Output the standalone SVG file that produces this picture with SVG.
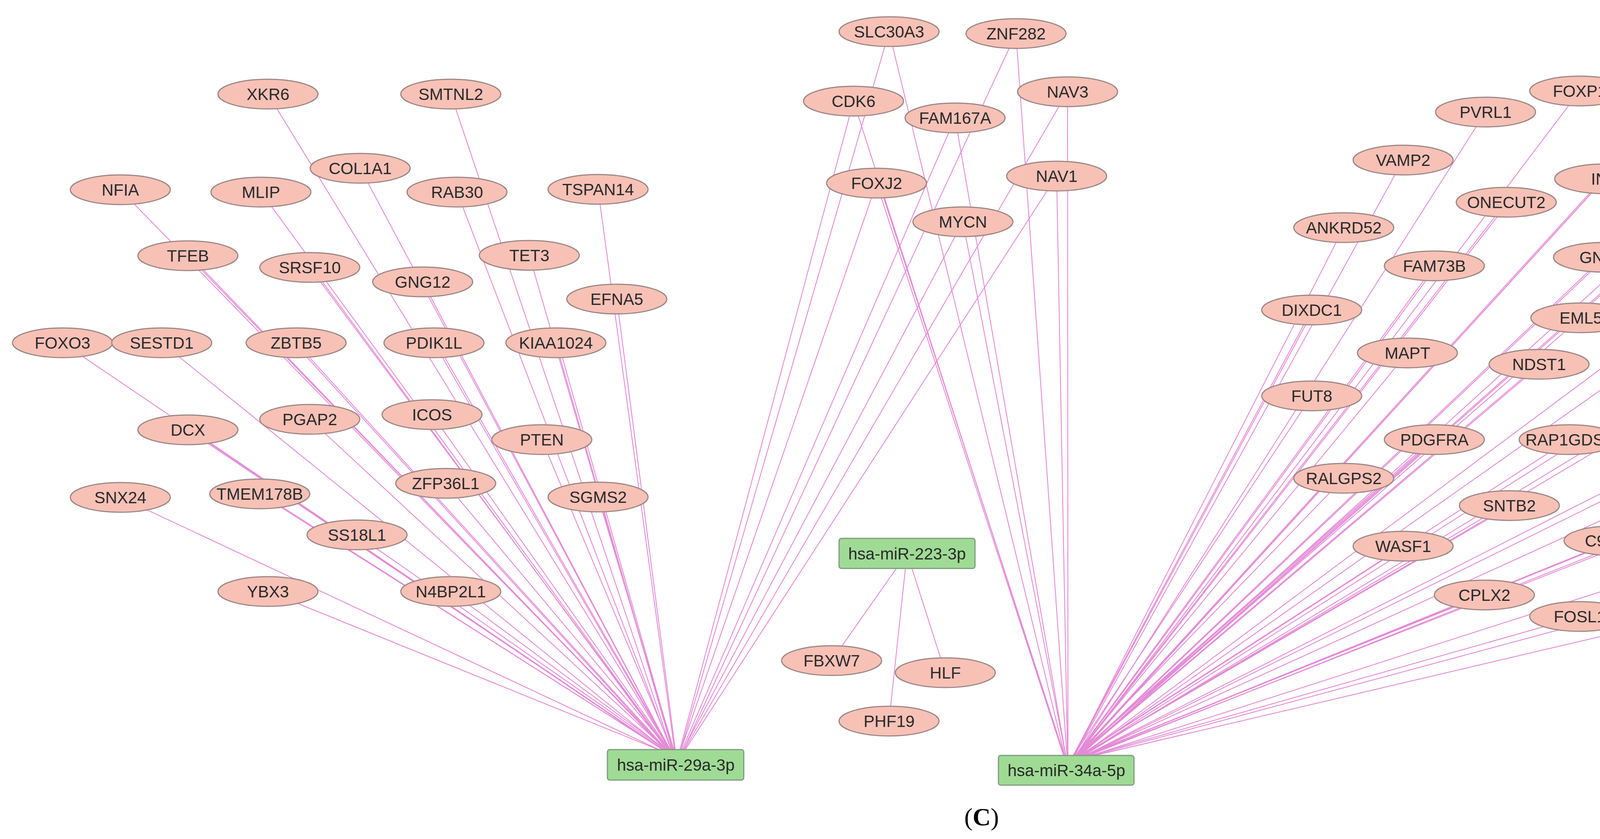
<svg xmlns="http://www.w3.org/2000/svg" width="5026" height="2149" viewBox="0 0 5026 2149">
<style>
.e{stroke:#e48ad6;stroke-width:2.2;fill:none}
.n ellipse{fill:#f8c1b6;stroke:#9b8886;stroke-width:3}
.m rect{fill:#9fdb95;stroke:#7f9c7f;stroke-width:3}
text{font-family:"Liberation Sans",Arial,sans-serif;font-size:42px;fill:#2a2a2a;text-anchor:middle;dominant-baseline:central}
.cap{font-family:"Liberation Serif","Times New Roman",serif;font-size:64px;fill:#000}
</style>
<rect width="5026" height="2149" fill="#fff"/>
<g id="edges">
<!-- miR-29a-3p -->
<line class="e" x1="686" y1="241" x2="1720" y2="1930"/>
<line class="e" x1="1154" y1="241" x2="1722" y2="1930"/>
<line class="e" x1="922" y1="431" x2="1720" y2="1930"/>
<line class="e" x1="308" y1="486" x2="1715" y2="1930"/>
<line class="e" x1="668" y1="492" x2="1718" y2="1930"/>
<line class="e" x1="1170" y1="492" x2="1722" y2="1930"/>
<line class="e" x1="1531" y1="485" x2="1728" y2="1930"/>
<line class="e" x1="481" y1="655" x2="1715" y2="1930"/>
<line class="e" x1="486" y1="655" x2="1712" y2="1930"/>
<line class="e" x1="793" y1="685" x2="1718" y2="1930"/>
<line class="e" x1="798" y1="685" x2="1715" y2="1930"/>
<line class="e" x1="1082" y1="722" x2="1720" y2="1930"/>
<line class="e" x1="1355" y1="654" x2="1724" y2="1930"/>
<line class="e" x1="1579" y1="766" x2="1730" y2="1930"/>
<line class="e" x1="160" y1="878" x2="1712" y2="1930"/>
<line class="e" x1="414" y1="878" x2="1714" y2="1930"/>
<line class="e" x1="758" y1="878" x2="1716" y2="1930"/>
<line class="e" x1="752" y1="878" x2="1713" y2="1930"/>
<line class="e" x1="1111" y1="878" x2="1720" y2="1930"/>
<line class="e" x1="1117" y1="878" x2="1722" y2="1930"/>
<line class="e" x1="1423" y1="878" x2="1724" y2="1930"/>
<line class="e" x1="1429" y1="878" x2="1726" y2="1930"/>
<line class="e" x1="793" y1="1074" x2="1716" y2="1930"/>
<line class="e" x1="1106" y1="1062" x2="1720" y2="1930"/>
<line class="e" x1="481" y1="1101" x2="1712" y2="1930"/>
<line class="e" x1="486" y1="1101" x2="1710" y2="1930"/>
<line class="e" x1="1387" y1="1126" x2="1724" y2="1930"/>
<line class="e" x1="1141" y1="1238" x2="1720" y2="1930"/>
<line class="e" x1="308" y1="1274" x2="1708" y2="1930"/>
<line class="e" x1="665" y1="1265" x2="1714" y2="1930"/>
<line class="e" x1="670" y1="1265" x2="1712" y2="1930"/>
<line class="e" x1="1531" y1="1273" x2="1728" y2="1930"/>
<line class="e" x1="914" y1="1370" x2="1716" y2="1930"/>
<line class="e" x1="686" y1="1515" x2="1710" y2="1930"/>
<line class="e" x1="1154" y1="1515" x2="1718" y2="1930"/>
<line class="e" x1="2276" y1="81" x2="1740" y2="1930"/>
<line class="e" x1="2185" y1="259" x2="1738" y2="1930"/>
<line class="e" x1="2445" y1="302" x2="1742" y2="1930"/>
<line class="e" x1="2244" y1="469" x2="1740" y2="1930"/>
<line class="e" x1="2465" y1="568" x2="1744" y2="1930"/>
<line class="e" x1="2601" y1="86" x2="1745" y2="1930"/>
<line class="e" x1="2733" y1="235" x2="1746" y2="1930"/>
<line class="e" x1="2705" y1="451" x2="1748" y2="1930"/>
<!-- miR-223-3p -->
<line class="e" x1="2322" y1="1417" x2="2129" y2="1692"/>
<line class="e" x1="2322" y1="1417" x2="2420" y2="1723"/>
<line class="e" x1="2322" y1="1417" x2="2276" y2="1847"/>
<!-- miR-34a-5p -->
<line class="e" x1="2276" y1="81" x2="2728" y2="1945"/>
<line class="e" x1="2185" y1="259" x2="2726" y2="1945"/>
<line class="e" x1="2445" y1="302" x2="2730" y2="1945"/>
<line class="e" x1="2244" y1="469" x2="2726" y2="1945"/>
<line class="e" x1="2250" y1="469" x2="2728" y2="1945"/>
<line class="e" x1="2465" y1="568" x2="2730" y2="1945"/>
<line class="e" x1="2601" y1="86" x2="2732" y2="1945"/>
<line class="e" x1="2733" y1="235" x2="2734" y2="1945"/>
<line class="e" x1="2705" y1="451" x2="2733" y2="1945"/>
<line class="e" x1="4044" y1="233" x2="2750" y2="1945"/>
<line class="e" x1="4295" y1="252" x2="2752" y2="1945"/>
<line class="e" x1="3803" y1="287" x2="2748" y2="1945"/>
<line class="e" x1="4525" y1="341" x2="2754" y2="1945"/>
<line class="e" x1="3592" y1="410" x2="2746" y2="1945"/>
<line class="e" x1="4108" y1="458" x2="2750" y2="1945"/>
<line class="e" x1="4103" y1="458" x2="2748" y2="1945"/>
<line class="e" x1="3856" y1="518" x2="2748" y2="1945"/>
<line class="e" x1="3862" y1="518" x2="2750" y2="1945"/>
<line class="e" x1="4361" y1="518" x2="2752" y2="1945"/>
<line class="e" x1="4367" y1="518" x2="2754" y2="1945"/>
<line class="e" x1="4709" y1="489" x2="2756" y2="1945"/>
<line class="e" x1="3440" y1="583" x2="2744" y2="1945"/>
<line class="e" x1="3672" y1="681" x2="2746" y2="1945"/>
<line class="e" x1="3678" y1="681" x2="2748" y2="1945"/>
<line class="e" x1="4105" y1="659" x2="2750" y2="1945"/>
<line class="e" x1="4111" y1="659" x2="2752" y2="1945"/>
<line class="e" x1="4546" y1="683" x2="2756" y2="1945"/>
<line class="e" x1="4829" y1="685" x2="2758" y2="1945"/>
<line class="e" x1="3358" y1="794" x2="2742" y2="1945"/>
<line class="e" x1="3363" y1="794" x2="2744" y2="1945"/>
<line class="e" x1="4047" y1="814" x2="2750" y2="1945"/>
<line class="e" x1="4449" y1="870" x2="2756" y2="1945"/>
<line class="e" x1="4869" y1="904" x2="2760" y2="1945"/>
<line class="e" x1="3603" y1="904" x2="2746" y2="1945"/>
<line class="e" x1="3940" y1="933" x2="2750" y2="1945"/>
<line class="e" x1="3945" y1="933" x2="2752" y2="1945"/>
<line class="e" x1="3358" y1="1014" x2="2742" y2="1945"/>
<line class="e" x1="4594" y1="1012" x2="2758" y2="1945"/>
<line class="e" x1="4273" y1="1044" x2="2754" y2="1945"/>
<line class="e" x1="3672" y1="1126" x2="2746" y2="1945"/>
<line class="e" x1="3667" y1="1126" x2="2744" y2="1945"/>
<line class="e" x1="4017" y1="1126" x2="2750" y2="1945"/>
<line class="e" x1="4829" y1="1123" x2="2762" y2="1945"/>
<line class="e" x1="4437" y1="1179" x2="2756" y2="1945"/>
<line class="e" x1="3440" y1="1225" x2="2744" y2="1945"/>
<line class="e" x1="3864" y1="1295" x2="2750" y2="1945"/>
<line class="e" x1="3869" y1="1295" x2="2752" y2="1945"/>
<line class="e" x1="4385" y1="1306" x2="2756" y2="1945"/>
<line class="e" x1="4709" y1="1319" x2="2762" y2="1945"/>
<line class="e" x1="3592" y1="1399" x2="2748" y2="1945"/>
<line class="e" x1="4132" y1="1385" x2="2752" y2="1945"/>
<line class="e" x1="4137" y1="1385" x2="2754" y2="1945"/>
<line class="e" x1="4525" y1="1469" x2="2760" y2="1945"/>
<line class="e" x1="3800" y1="1524" x2="2750" y2="1945"/>
<line class="e" x1="4044" y1="1579" x2="2756" y2="1945"/>
<line class="e" x1="4345" y1="1572" x2="2760" y2="1945"/>
</g>
<g id="SLC30A3" class="n"><ellipse cx="2276" cy="81" rx="128" ry="38"/><text x="2276" y="81">SLC30A3</text></g>
<g id="ZNF282" class="n"><ellipse cx="2601" cy="86" rx="128" ry="38"/><text x="2601" y="86">ZNF282</text></g>
<g id="XKR6" class="n"><ellipse cx="686" cy="241" rx="128" ry="38"/><text x="686" y="241">XKR6</text></g>
<g id="SMTNL2" class="n"><ellipse cx="1154" cy="241" rx="128" ry="38"/><text x="1154" y="241">SMTNL2</text></g>
<g id="CDK6" class="n"><ellipse cx="2185" cy="259" rx="128" ry="38"/><text x="2185" y="259">CDK6</text></g>
<g id="FAM167A" class="n"><ellipse cx="2445" cy="302" rx="128" ry="38"/><text x="2445" y="302">FAM167A</text></g>
<g id="NAV3" class="n"><ellipse cx="2733" cy="235" rx="128" ry="38"/><text x="2733" y="235">NAV3</text></g>
<g id="COL1A1" class="n"><ellipse cx="922" cy="431" rx="128" ry="38"/><text x="922" y="431">COL1A1</text></g>
<g id="NFIA" class="n"><ellipse cx="308" cy="486" rx="128" ry="38"/><text x="308" y="486">NFIA</text></g>
<g id="MLIP" class="n"><ellipse cx="668" cy="492" rx="128" ry="38"/><text x="668" y="492">MLIP</text></g>
<g id="RAB30" class="n"><ellipse cx="1170" cy="492" rx="128" ry="38"/><text x="1170" y="492">RAB30</text></g>
<g id="TSPAN14" class="n"><ellipse cx="1531" cy="485" rx="128" ry="38"/><text x="1531" y="485">TSPAN14</text></g>
<g id="FOXJ2" class="n"><ellipse cx="2244" cy="469" rx="128" ry="38"/><text x="2244" y="469">FOXJ2</text></g>
<g id="NAV1" class="n"><ellipse cx="2705" cy="451" rx="128" ry="38"/><text x="2705" y="451">NAV1</text></g>
<g id="MYCN" class="n"><ellipse cx="2465" cy="568" rx="128" ry="38"/><text x="2465" y="568">MYCN</text></g>
<g id="TFEB" class="n"><ellipse cx="481" cy="655" rx="128" ry="38"/><text x="481" y="655">TFEB</text></g>
<g id="SRSF10" class="n"><ellipse cx="793" cy="685" rx="128" ry="38"/><text x="793" y="685">SRSF10</text></g>
<g id="GNG12" class="n"><ellipse cx="1082" cy="722" rx="128" ry="38"/><text x="1082" y="722">GNG12</text></g>
<g id="TET3" class="n"><ellipse cx="1355" cy="654" rx="128" ry="38"/><text x="1355" y="654">TET3</text></g>
<g id="EFNA5" class="n"><ellipse cx="1579" cy="766" rx="128" ry="38"/><text x="1579" y="766">EFNA5</text></g>
<g id="FOXO3" class="n"><ellipse cx="160" cy="878" rx="128" ry="38"/><text x="160" y="878">FOXO3</text></g>
<g id="SESTD1" class="n"><ellipse cx="414" cy="878" rx="128" ry="38"/><text x="414" y="878">SESTD1</text></g>
<g id="ZBTB5" class="n"><ellipse cx="758" cy="878" rx="128" ry="38"/><text x="758" y="878">ZBTB5</text></g>
<g id="PDIK1L" class="n"><ellipse cx="1111" cy="878" rx="128" ry="38"/><text x="1111" y="878">PDIK1L</text></g>
<g id="KIAA1024" class="n"><ellipse cx="1423" cy="878" rx="128" ry="38"/><text x="1423" y="878">KIAA1024</text></g>
<g id="PGAP2" class="n"><ellipse cx="793" cy="1074" rx="128" ry="38"/><text x="793" y="1074">PGAP2</text></g>
<g id="ICOS" class="n"><ellipse cx="1106" cy="1062" rx="128" ry="38"/><text x="1106" y="1062">ICOS</text></g>
<g id="DCX" class="n"><ellipse cx="481" cy="1101" rx="128" ry="38"/><text x="481" y="1101">DCX</text></g>
<g id="PTEN" class="n"><ellipse cx="1387" cy="1126" rx="128" ry="38"/><text x="1387" y="1126">PTEN</text></g>
<g id="ZFP36L1" class="n"><ellipse cx="1141" cy="1238" rx="128" ry="38"/><text x="1141" y="1238">ZFP36L1</text></g>
<g id="SNX24" class="n"><ellipse cx="308" cy="1274" rx="128" ry="38"/><text x="308" y="1274">SNX24</text></g>
<g id="TMEM178B" class="n"><ellipse cx="665" cy="1265" rx="128" ry="38"/><text x="665" y="1265">TMEM178B</text></g>
<g id="SGMS2" class="n"><ellipse cx="1531" cy="1273" rx="128" ry="38"/><text x="1531" y="1273">SGMS2</text></g>
<g id="SS18L1" class="n"><ellipse cx="914" cy="1370" rx="128" ry="38"/><text x="914" y="1370">SS18L1</text></g>
<g id="YBX3" class="n"><ellipse cx="686" cy="1515" rx="128" ry="38"/><text x="686" y="1515">YBX3</text></g>
<g id="N4BP2L1" class="n"><ellipse cx="1154" cy="1515" rx="128" ry="38"/><text x="1154" y="1515">N4BP2L1</text></g>
<g id="FBXW7" class="n"><ellipse cx="2129" cy="1692" rx="128" ry="38"/><text x="2129" y="1692">FBXW7</text></g>
<g id="HLF" class="n"><ellipse cx="2420" cy="1723" rx="128" ry="38"/><text x="2420" y="1723">HLF</text></g>
<g id="PHF19" class="n"><ellipse cx="2276" cy="1847" rx="128" ry="38"/><text x="2276" y="1847">PHF19</text></g>
<g id="FOXP1" class="n"><ellipse cx="4044" cy="233" rx="128" ry="38"/><text x="4044" y="233">FOXP1</text></g>
<g id="DGKH" class="n"><ellipse cx="4295" cy="252" rx="128" ry="38"/><text x="4295" y="252">DGKH</text></g>
<g id="PVRL1" class="n"><ellipse cx="3803" cy="287" rx="128" ry="38"/><text x="3803" y="287">PVRL1</text></g>
<g id="ANK3" class="n"><ellipse cx="4525" cy="341" rx="128" ry="38"/><text x="4525" y="341">ANK3</text></g>
<g id="VAMP2" class="n"><ellipse cx="3592" cy="410" rx="128" ry="38"/><text x="3592" y="410">VAMP2</text></g>
<g id="INA" class="n"><ellipse cx="4108" cy="458" rx="128" ry="38"/><text x="4108" y="458">INA</text></g>
<g id="ONECUT2" class="n"><ellipse cx="3856" cy="518" rx="128" ry="38"/><text x="3856" y="518">ONECUT2</text></g>
<g id="FAM175B" class="n"><ellipse cx="4361" cy="518" rx="128" ry="38"/><text x="4361" y="518">FAM175B</text></g>
<g id="STRN3" class="n"><ellipse cx="4709" cy="489" rx="128" ry="38"/><text x="4709" y="489">STRN3</text></g>
<g id="ANKRD52" class="n"><ellipse cx="3440" cy="583" rx="128" ry="38"/><text x="3440" y="583">ANKRD52</text></g>
<g id="FAM73B" class="n"><ellipse cx="3672" cy="681" rx="128" ry="38"/><text x="3672" y="681">FAM73B</text></g>
<g id="GNAQ" class="n"><ellipse cx="4105" cy="659" rx="128" ry="38"/><text x="4105" y="659">GNAQ</text></g>
<g id="CALCR" class="n"><ellipse cx="4546" cy="683" rx="128" ry="38"/><text x="4546" y="683">CALCR</text></g>
<g id="PLAG1" class="n"><ellipse cx="4829" cy="685" rx="128" ry="38"/><text x="4829" y="685">PLAG1</text></g>
<g id="DIXDC1" class="n"><ellipse cx="3358" cy="794" rx="128" ry="38"/><text x="3358" y="794">DIXDC1</text></g>
<g id="EML5" class="n"><ellipse cx="4047" cy="814" rx="128" ry="38"/><text x="4047" y="814">EML5</text></g>
<g id="SIDT1" class="n"><ellipse cx="4449" cy="870" rx="128" ry="38"/><text x="4449" y="870">SIDT1</text></g>
<g id="CUEDC1" class="n"><ellipse cx="4869" cy="904" rx="128" ry="38"/><text x="4869" y="904">CUEDC1</text></g>
<g id="MAPT" class="n"><ellipse cx="3603" cy="904" rx="128" ry="38"/><text x="3603" y="904">MAPT</text></g>
<g id="NDST1" class="n"><ellipse cx="3940" cy="933" rx="128" ry="38"/><text x="3940" y="933">NDST1</text></g>
<g id="FUT8" class="n"><ellipse cx="3358" cy="1014" rx="128" ry="38"/><text x="3358" y="1014">FUT8</text></g>
<g id="ARHGAP36" class="n"><ellipse cx="4594" cy="1012" rx="128" ry="38"/><text x="4594" y="1012">ARHGAP36</text></g>
<g id="ZCCHC17" class="n"><ellipse cx="4273" cy="1044" rx="128" ry="38"/><text x="4273" y="1044">ZCCHC17</text></g>
<g id="PDGFRA" class="n"><ellipse cx="3672" cy="1126" rx="128" ry="38"/><text x="3672" y="1126">PDGFRA</text></g>
<g id="RAP1GDS1" class="n"><ellipse cx="4017" cy="1126" rx="128" ry="38"/><text x="4017" y="1126">RAP1GDS1</text></g>
<g id="AMER1" class="n"><ellipse cx="4829" cy="1123" rx="128" ry="38"/><text x="4829" y="1123">AMER1</text></g>
<g id="NRIP3" class="n"><ellipse cx="4437" cy="1179" rx="128" ry="38"/><text x="4437" y="1179">NRIP3</text></g>
<g id="RALGPS2" class="n"><ellipse cx="3440" cy="1225" rx="128" ry="38"/><text x="3440" y="1225">RALGPS2</text></g>
<g id="SNTB2" class="n"><ellipse cx="3864" cy="1295" rx="128" ry="38"/><text x="3864" y="1295">SNTB2</text></g>
<g id="GRIN2B" class="n"><ellipse cx="4385" cy="1306" rx="128" ry="38"/><text x="4385" y="1306">GRIN2B</text></g>
<g id="STK38L" class="n"><ellipse cx="4709" cy="1319" rx="128" ry="38"/><text x="4709" y="1319">STK38L</text></g>
<g id="WASF1" class="n"><ellipse cx="3592" cy="1399" rx="128" ry="38"/><text x="3592" y="1399">WASF1</text></g>
<g id="C9orf69" class="n"><ellipse cx="4132" cy="1385" rx="128" ry="38"/><text x="4132" y="1385">C9orf69</text></g>
<g id="PEG10" class="n"><ellipse cx="4525" cy="1469" rx="128" ry="38"/><text x="4525" y="1469">PEG10</text></g>
<g id="CPLX2" class="n"><ellipse cx="3800" cy="1524" rx="128" ry="38"/><text x="3800" y="1524">CPLX2</text></g>
<g id="FOSL1" class="n"><ellipse cx="4044" cy="1579" rx="128" ry="38"/><text x="4044" y="1579">FOSL1</text></g>
<g id="MDM4" class="n"><ellipse cx="4345" cy="1572" rx="128" ry="38"/><text x="4345" y="1572">MDM4</text></g>
<g id="hsa-miR-223-3p" class="m"><rect x="2148" y="1379" width="348" height="77" rx="6"/><text x="2322" y="1418">hsa-miR-223-3p</text></g>
<g id="hsa-miR-29a-3p" class="m"><rect x="1555" y="1920" width="349" height="78" rx="6"/><text x="1730" y="1959">hsa-miR-29a-3p</text></g>
<g id="hsa-miR-34a-5p" class="m"><rect x="2556" y="1935" width="347" height="76" rx="6"/><text x="2730" y="1973">hsa-miR-34a-5p</text></g>
<text class="cap" x="2513" y="2092">(<tspan font-weight="bold">C</tspan>)</text>
</svg>
